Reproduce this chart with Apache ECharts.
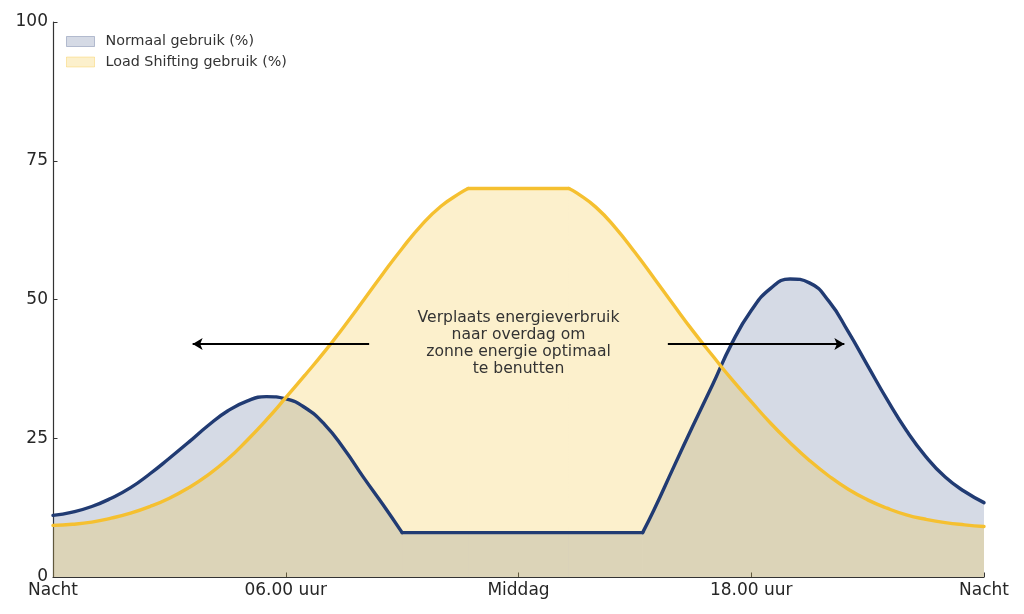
<!DOCTYPE html>
<html>
<head>
<meta charset="utf-8">
<title>Load shifting</title>
<script src="https://cdn.jsdelivr.net/npm/echarts@6/dist/echarts.min.js"></script>
<style>
  html, body { margin: 0; padding: 0; background: #fff; }
  #chart { width: 1024px; height: 614px; }
</style>
</head>
<body>
<div id="chart"></div>
<script>
// uren van de dag (x) en verbruik in % (y)
const normaalHours = [0, 0.5, 1, 1.5, 2, 2.5, 3, 3.5, 4, 4.5, 5, 5.5, 6, 6.5, 7, 7.5, 8, 8.5, 9,
  10, 11, 12, 13, 14, 15.2, 15.5, 16, 16.5, 17, 17.5, 18, 18.5, 19, 19.5, 20, 20.5, 21, 21.5,
  22, 22.5, 23, 23.5, 24];
const normaalValues = [11.1, 11.7, 12.7, 14.2, 16.1, 18.6, 21.4, 24.3, 27.3, 29.9, 31.7, 32.5, 32.1, 30.5, 27.5, 23.1, 18.0, 13.1, 8.0,
  8, 8, 8, 8, 8, 8, 12.2, 19.8, 27.3, 34.6, 42.1, 48.0, 52.0, 53.7, 53.0, 49.7, 44.2, 38.1, 32.0,
  26.4, 21.7, 18.0, 15.4, 13.4];
const normaalCorners = [9, 15.2];

const shiftHours = [0, 0.5, 1, 1.5, 2, 2.5, 3, 3.5, 4, 4.5, 5, 5.5, 6, 6.5, 7, 7.5, 8, 8.5, 9, 9.5, 10, 10.5, 10.7,
  12, 13.3, 13.5, 14, 14.5, 15, 15.5, 16, 16.5, 17, 17.5, 18, 18.5, 19, 19.5, 20, 20.5, 21, 21.5,
  22, 22.5, 23, 23.5, 24];
const shiftValues = [9.3, 9.5, 9.9, 10.6, 11.5, 12.7, 14.2, 16.1, 18.4, 21.2, 24.6, 28.3, 32.3, 36.4, 40.6, 45.1, 49.8, 54.6, 59.2, 63.4, 66.8, 69.2, 70,
  70, 70, 69.2, 66.6, 62.9, 58.5, 53.8, 49.0, 44.3, 39.9, 35.6, 31.6, 27.7, 24.2, 21.0, 18.2, 15.8, 13.9, 12.4,
  11.2, 10.4, 9.8, 9.4, 9.1];
const shiftCorners = [10.7, 13.3];

const xTickLabels = ['Nacht', '06.00 uur', 'Middag', '18.00 uur', 'Nacht'];
const annotationLines = ['Verplaats energieverbruik', 'naar overdag om', 'zonne energie optimaal', 'te benutten'];

const NAME_NORMAAL = 'Normaal gebruik (%)';
const NAME_SHIFT = 'Load Shifting gebruik (%)';

const BLUE = '#213b73';
const BLUE_FILL = 'rgba(33,59,115,0.19)';
const YELLOW = '#f5c030';
const YELLOW_FILL = 'rgba(245,194,52,0.25)';
const FONT = 'DejaVu Sans';
const SMOOTH = 0.5;

// split a curve at its sharp corners, so the smoothing does not round them off
function splitAt(xs, ys, corners) {
  const parts = [];
  let cur = [];
  xs.forEach((x, i) => {
    cur.push([x, ys[i]]);
    if (corners.indexOf(x) >= 0) {
      parts.push(cur);
      cur = [[x, ys[i]]];
    }
  });
  parts.push(cur);
  return parts;
}

const curve = { type: 'line', smooth: SMOOTH, smoothMonotone: 'none', smoothConstraint: false, showSymbol: false };

function areaParts(name, xs, ys, corners, fill) {
  return splitAt(xs, ys, corners).map(part => Object.assign({}, curve, {
    name: name, z: 1,
    data: part,
    lineStyle: { width: 0, opacity: 0 },
    areaStyle: { color: fill, opacity: 1 }
  }));
}

function lineParts(name, xs, ys, corners, color, z, extra) {
  return splitAt(xs, ys, corners).map((part, k) => Object.assign({}, curve, {
    name: name, z: z,
    data: part,
    lineStyle: { color: color, width: 3.4, cap: 'round', join: 'round' },
    itemStyle: { color: color }
  }, k === 0 ? extra : {}));
}

const chart = echarts.init(document.getElementById('chart'));

const axisLine = { show: true, lineStyle: { color: '#333', width: 1.2 } };
const axisTick = { show: true, inside: true, length: 4.5, lineStyle: { color: '#333', width: 1 } };

const arrowsAndText = {
  markLine: {
    silent: true,
    symbol: ['none', 'arrow'],
    symbolSize: [9, 10],
    label: { show: false },
    lineStyle: { color: '#000', width: 2, type: 'solid' },
    data: [
      [{ coord: [8.15, 42] }, { coord: [3.6, 42] }],
      [{ coord: [15.85, 42] }, { coord: [20.4, 42] }]
    ]
  },
  markPoint: {
    silent: true,
    symbol: 'circle',
    symbolSize: 0,
    label: {
      show: true,
      position: 'inside',
      formatter: annotationLines.join('\n'),
      fontSize: 15.6,
      lineHeight: 17,
      align: 'center',
      color: '#333',
      fontFamily: FONT
    },
    data: [{ coord: [12, 42] }]
  }
};

const option = {
  animation: false,
  backgroundColor: '#fff',
  grid: { left: 53, right: 40, top: 22, bottom: 37 },
  legend: {
    orient: 'vertical',
    left: 66,
    top: 34.5,
    padding: 0,
    itemGap: 6.5,
    itemWidth: 28,
    itemHeight: 10,
    textStyle: { fontSize: 14.3, color: '#333', fontFamily: FONT, lineHeight: 14, padding: [0, 0, 0, 6] },
    data: [
      { name: NAME_NORMAAL, icon: 'rect', itemStyle: { color: BLUE_FILL, borderColor: 'rgba(33,59,115,0.28)', borderWidth: 1 } },
      { name: NAME_SHIFT, icon: 'rect', itemStyle: { color: YELLOW_FILL, borderColor: 'rgba(245,194,52,0.35)', borderWidth: 1 } }
    ]
  },
  xAxis: {
    type: 'value',
    min: 0,
    max: 24,
    interval: 6,
    axisLine: axisLine,
    axisTick: axisTick,
    splitLine: { show: false },
    axisLabel: {
      fontSize: 17, color: '#262626', fontFamily: FONT, margin: 5,
      formatter: v => xTickLabels[Math.round(v / 6)]
    }
  },
  yAxis: {
    type: 'value',
    min: 0,
    max: 100,
    interval: 25,
    axisLine: axisLine,
    axisTick: axisTick,
    splitLine: { show: false },
    axisLabel: { fontSize: 17, color: '#262626', fontFamily: FONT, margin: 5, verticalAlign: 'middle', lineHeight: 17, padding: [6, 0, 0, 0] }
  },
  series: []
    .concat(areaParts(NAME_NORMAAL, normaalHours, normaalValues, normaalCorners, BLUE_FILL))
    .concat(areaParts(NAME_SHIFT, shiftHours, shiftValues, shiftCorners, YELLOW_FILL))
    .concat(lineParts(NAME_NORMAAL, normaalHours, normaalValues, normaalCorners, BLUE, 3, arrowsAndText))
    .concat(lineParts(NAME_SHIFT, shiftHours, shiftValues, shiftCorners, YELLOW, 4, {}))
};

chart.setOption(option);
</script>
</body>
</html>
